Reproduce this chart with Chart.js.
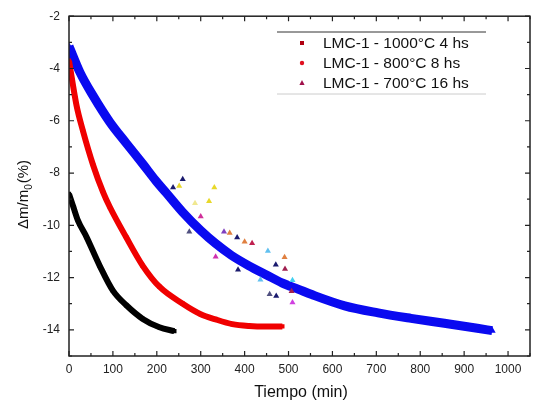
<!DOCTYPE html>
<html>
<head>
<meta charset="utf-8">
<script src="https://cdn.jsdelivr.net/npm/chart.js@4/dist/chart.umd.min.js"></script>
<style>
  html, body { margin: 0; padding: 0; background: #fff; }
</style>
</head>
<body>
<canvas id="myChart" width="534" height="405"></canvas>
<script>
// series labels
const seriesLabels = ["LMC-1 - 1000°C 4 hs", "LMC-1 - 800°C 8 hs", "LMC-1 - 700°C 16 hs"];

// 1000°C 4 hs (black band)
const tBlack = [0, 10, 20, 40, 70, 100, 130, 168, 206, 240];
const vBlack = [-8.8, -9.3, -9.8, -10.45, -11.55, -12.5, -13.05, -13.58, -13.9, -14.05];

// 800°C 8 hs (red band)
const tRed = [0, 17, 32, 55, 78, 93, 130, 168, 206, 259, 300, 334, 372, 410, 450, 486];
const vRed = [-3.7, -5.4, -6.4, -7.7, -8.75, -9.3, -10.45, -11.55, -12.35, -13.0, -13.4, -13.6, -13.78, -13.85, -13.87, -13.87];

// 700°C 16 hs (blue band)
const tBlue = [0, 25, 55, 93, 130, 168, 198, 221, 259, 300, 334, 370, 410, 450, 485, 523, 553, 628, 704, 779, 855, 930, 964];
const vBlue = [-3.15, -4.15, -5.05, -6.05, -6.85, -7.65, -8.3, -8.75, -9.5, -10.2, -10.7, -11.15, -11.55, -11.9, -12.2, -12.45, -12.65, -13.08, -13.35, -13.56, -13.75, -13.94, -14.03];

// scattered triangles around the blue band
const tScatter = [237, 251, 259, 331, 319, 287, 300, 274, 353, 366, 383, 400, 417, 334, 453, 491, 385, 471, 492, 436, 457, 472, 509, 507, 509];
const vScatter = [-8.55, -8.5, -8.24, -8.55, -9.08, -9.16, -9.66, -10.25, -10.25, -10.29, -10.47, -10.63, -10.69, -11.2, -10.98, -11.22, -11.7, -11.51, -11.67, -12.08, -12.64, -12.7, -12.95, -12.52, -12.1];
const scatterColors = ["#1a1a6e", "#e8d82a", "#1a1a6e", "#e8d82a", "#e8d82a", "#f0e890", "#d0309a", "#505080", "#8040c0", "#e08040", "#1a1a6e", "#e08040", "#c02050", "#d030b0", "#60c0f0", "#e08040", "#1a1a6e", "#1a1a6e", "#a02050", "#60c0f0", "#505080", "#1a1a6e", "#d040e0", "#a02050", "#40d0f0"];

// axis ticks
const xTicks = [0, 100, 200, 300, 400, 500, 600, 700, 800, 900, 1000];
const yTicks = [-14, -12, -10, -8, -6, -4, -2];

const toPts = (xs, ys) => xs.map((x, i) => ({ x: x, y: ys[i] }));
const FONT = "'Liberation Sans', Arial, sans-serif";

// draws the inward ticks, the box, the in-plot legend and the axis titles
const frame = {
  id: "frame",
  afterDraw(chart) {
    const ctx = chart.ctx;
    const a = chart.chartArea;
    const xs = chart.scales.x, ys = chart.scales.y;
    ctx.save();
    ctx.strokeStyle = "#222";
    ctx.lineWidth = 1.5;
    ctx.strokeRect(a.left, a.top, a.right - a.left, a.bottom - a.top);
    ctx.lineWidth = 1.2;
    ctx.beginPath();
    for (let v = 0; v <= 1050; v += 50) {
      const p = xs.getPixelForValue(v);
      const len = v % 100 === 0 ? 5 : 3;
      ctx.moveTo(p, a.bottom); ctx.lineTo(p, a.bottom - len);
      ctx.moveTo(p, a.top); ctx.lineTo(p, a.top + len);
    }
    for (let v = -15; v <= -2; v += 1) {
      const p = ys.getPixelForValue(v);
      const len = v % 2 === 0 ? 5 : 3;
      ctx.moveTo(a.left, p); ctx.lineTo(a.left + len, p);
      ctx.moveTo(a.right, p); ctx.lineTo(a.right - len, p);
    }
    ctx.stroke();

    // legend
    const lx = 277, ly = 32, lw = 209, lh = 62;
    ctx.fillStyle = "#fff";
    ctx.fillRect(lx, ly, lw, lh);
    ctx.strokeStyle = "#333";
    ctx.lineWidth = 1;
    ctx.beginPath(); ctx.moveTo(lx, ly); ctx.lineTo(lx + lw, ly); ctx.stroke();
    ctx.strokeStyle = "#ccc";
    ctx.beginPath(); ctx.moveTo(lx, ly + lh); ctx.lineTo(lx + lw, ly + lh); ctx.stroke();
    const rows = [43, 63, 83];
    ctx.font = "15.5px " + FONT;
    ctx.textBaseline = "middle";
    ctx.textAlign = "left";
    seriesLabels.forEach((lab, i) => {
      const y = rows[i], mx = 302;
      if (i === 0) { ctx.fillStyle = "#b00010"; ctx.fillRect(mx - 2, y - 2, 4, 4); }
      if (i === 1) { ctx.fillStyle = "#e01020"; ctx.beginPath(); ctx.arc(mx, y, 2.2, 0, Math.PI * 2); ctx.fill(); }
      if (i === 2) { ctx.fillStyle = "#a0104a"; ctx.beginPath(); ctx.moveTo(mx, y - 3); ctx.lineTo(mx + 2.6, y + 2); ctx.lineTo(mx - 2.6, y + 2); ctx.closePath(); ctx.fill(); }
      ctx.fillStyle = "#111";
      ctx.fillText(lab, 323, y + 1);
    });

    // axis titles
    ctx.fillStyle = "#111";
    ctx.font = "16px " + FONT;
    ctx.textAlign = "center";
    ctx.textBaseline = "middle";
    ctx.fillText("Tiempo (min)", 301, 393);

    ctx.translate(24, 195);
    ctx.rotate(-Math.PI / 2);
    ctx.textAlign = "left";
    const p1 = "\u0394m/m", p2 = "0", p3 = "(%)";
    ctx.font = "15px " + FONT;
    const w1 = ctx.measureText(p1).width, w3 = ctx.measureText(p3).width;
    ctx.font = "10px " + FONT;
    const w2 = ctx.measureText(p2).width;
    let x0 = -(w1 + w2 + w3) / 2;
    ctx.font = "15px " + FONT;
    ctx.fillText(p1, x0, 0);
    ctx.font = "10px " + FONT;
    ctx.fillText(p2, x0 + w1, 5);
    ctx.font = "15px " + FONT;
    ctx.fillText(p3, x0 + w1 + w2 + 1, 0);
    ctx.restore();
  }
};

const ctx = document.getElementById("myChart");

new Chart(ctx, {
  type: "scatter",
  data: {
    datasets: [
      {
        label: seriesLabels[0],
        data: toPts(tBlack, vBlack),
        showLine: true,
        borderColor: "#000",
        borderWidth: 6,
        cubicInterpolationMode: "monotone",
        pointStyle: "rect",
        pointRadius: 3,
        pointBorderWidth: 0,
        pointBackgroundColor: "#000"
      },
      {
        label: seriesLabels[1],
        data: toPts(tRed, vRed),
        showLine: true,
        borderColor: "#f00000",
        borderWidth: 6,
        cubicInterpolationMode: "monotone",
        pointStyle: "rect",
        pointRadius: 3,
        pointBorderWidth: 0,
        pointBackgroundColor: "#f00000"
      },
      {
        label: "scatter",
        data: toPts(tScatter, vScatter),
        pointStyle: "triangle",
        pointRadius: 3.5,
        pointBorderWidth: 0,
        pointBackgroundColor: scatterColors
      },
      {
        label: seriesLabels[2],
        data: toPts(tBlue, vBlue),
        showLine: true,
        borderColor: "#0a0af0",
        borderWidth: 9,
        cubicInterpolationMode: "monotone",
        pointStyle: "triangle",
        pointRadius: 4,
        pointBorderWidth: 0,
        pointBackgroundColor: "#0a0af0"
      }
    ]
  },
  options: {
    responsive: false,
    animation: false,
    devicePixelRatio: 1,
    layout: { padding: { top: 13, right: 3, left: 0, bottom: 0 } },
    plugins: {
      legend: { display: false },
      tooltip: { enabled: false }
    },
    scales: {
      x: {
        type: "linear",
        min: 0,
        max: 1050,
        grid: { display: false, drawTicks: false },
        border: { display: false },
        afterBuildTicks: (s) => { s.ticks = xTicks.map(v => ({ value: v })); },
        afterFit: (s) => { s.height = 49; },
        ticks: {
          padding: 6,
          color: "#222",
          callback: (v) => String(v),
          font: { family: FONT, size: 12 }
        }
      },
      y: {
        type: "linear",
        min: -15,
        max: -2,
        grid: { display: false, drawTicks: false },
        border: { display: false },
        afterBuildTicks: (s) => { s.ticks = yTicks.map(v => ({ value: v })); },
        afterFit: (s) => { s.width = 69; },
        ticks: {
          padding: 9,
          color: "#222",
          callback: (v) => String(v),
          font: { family: FONT, size: 12 }
        }
      }
    }
  },
  plugins: [frame]
});
</script>
</body>
</html>
